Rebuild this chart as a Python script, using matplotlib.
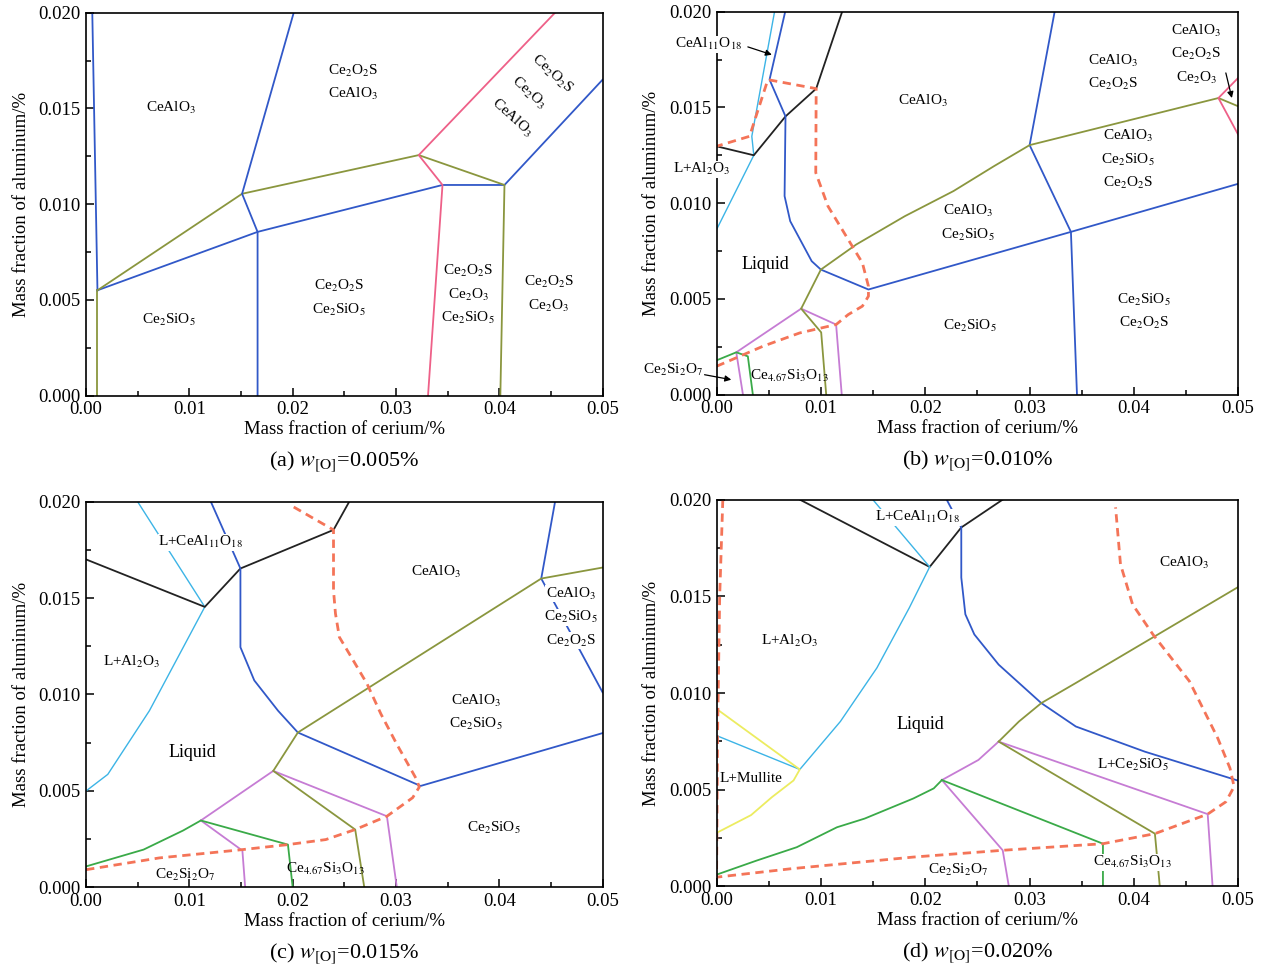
import numpy as np
import matplotlib
matplotlib.use("Agg")
import matplotlib.pyplot as plt
from matplotlib.ticker import MultipleLocator, FormatStrFormatter

plt.rcParams['font.family'] = ['Liberation Serif', 'DejaVu Serif']
plt.rcParams['mathtext.fontset'] = 'stix'

# ---- colours of the boundary lines
BLUE = '#3158c8'
CYAN = '#3cb4e6'
OLIVE = '#8a963e'
PINK = '#ee6088'
DASH = '#f47458'
PURPLE = '#c67cd4'
GREEN = '#3aaa48'
YELLOW = '#ecec60'
BLACK = '#222222'

# ---- (a) w[O] = 0.005 %
a_blue_left = [(0.0006, 0.020), (0.0011, 0.0055)]
a_olive_left = [(0.0011, 0.0055), (0.0011, 0.0)]
a_blue_low = [(0.0011, 0.0055), (0.0166, 0.00855), (0.0345, 0.0110), (0.0405, 0.0110), (0.050, 0.0165)]
a_olive_mid = [(0.0011, 0.0055), (0.0151, 0.01054), (0.0322, 0.01256), (0.0405, 0.0110), (0.0401, 0.0)]
a_blue_mid = [(0.0201, 0.020), (0.0151, 0.01054), (0.0166, 0.00855), (0.0166, 0.0)]
a_pink = [(0.0454, 0.020), (0.0322, 0.01256), (0.0345, 0.0110), (0.0331, 0.0)]

# ---- (b) w[O] = 0.010 %
b_cyan = [(0.00556, 0.020), (0.00338, 0.01349), (0.00357, 0.0125), (0.0, 0.00862)]
b_black = [(0.0, 0.01297), (0.00357, 0.0125), (0.00661, 0.01453), (0.00955, 0.01598), (0.01204, 0.020)]
b_blue_left = [(0.00658, 0.020), (0.00508, 0.01645), (0.00661, 0.01453), (0.00652, 0.01037),
               (0.00706, 0.00906), (0.00912, 0.00697), (0.0100, 0.00653), (0.01456, 0.00549),
               (0.03397, 0.0085), (0.050, 0.01101)]
b_blue_right = [(0.03241, 0.020), (0.03001, 0.01303), (0.03397, 0.0085), (0.03455, 0.0)]
b_olive = [(0.00811, 0.00449), (0.0100, 0.00653), (0.01339, 0.00784), (0.01805, 0.00932),
           (0.02271, 0.01063), (0.02659, 0.01193), (0.03001, 0.01303), (0.04811, 0.01549), (0.050, 0.01506)]
b_pink = [(0.050, 0.01654), (0.04811, 0.01549), (0.050, 0.01358)]
b_purple = [(0.00253, 0.0), (0.00189, 0.00221), (0.00811, 0.00449), (0.01146, 0.00366), (0.0120, 0.0)]
b_green = [(0.0, 0.00179), (0.00189, 0.00221), (0.0030, 0.0020), (0.00348, 0.0)]
b_olive2 = [(0.00811, 0.00449), (0.01003, 0.00325), (0.01051, 0.0)]
b_dash = [(0.0, 0.00148), (0.00446, 0.00253), (0.00796, 0.00322), (0.01146, 0.00366), (0.01262, 0.00418),
          (0.01398, 0.00462), (0.01456, 0.00514), (0.01456, 0.00566), (0.01398, 0.00688),
          (0.01262, 0.0081), (0.01068, 0.00984), (0.00951, 0.01159), (0.00955, 0.01598),
          (0.00492, 0.01645), (0.00316, 0.01349), (0.0, 0.01297)]

# ---- (c) w[O] = 0.015 %
c_cyan = [(0.0, 0.0050), (0.0021, 0.00586), (0.00613, 0.00916), (0.01149, 0.01454), (0.00498, 0.020)]
c_black = [(0.0, 0.0170), (0.01149, 0.01454), (0.01494, 0.01653), (0.02395, 0.01853), (0.02548, 0.020)]
c_blue_left = [(0.01207, 0.020), (0.01494, 0.01653), (0.01494, 0.01245), (0.01628, 0.01073),
               (0.01858, 0.00916), (0.0205, 0.00803), (0.03238, 0.00526), (0.050, 0.0080)]
c_blue_right = [(0.0454, 0.020), (0.04406, 0.01601), (0.050, 0.01011)]
c_olive = [(0.01812, 0.00604), (0.0205, 0.00803), (0.04406, 0.01601), (0.050, 0.01658)]
c_purple1 = [(0.01111, 0.00347), (0.01812, 0.00604), (0.02912, 0.00369), (0.03008, 0.0)]
c_purple2 = [(0.01111, 0.00347), (0.01513, 0.00191), (0.0154, 0.0)]
c_green = [(0.0, 0.00109), (0.00556, 0.00196), (0.00939, 0.00295), (0.01111, 0.00347), (0.01954, 0.00222), (0.0200, 0.0)]
c_olive2 = [(0.01812, 0.00604), (0.02605, 0.0030), (0.02693, 0.0)]
c_dash = [(0.0, 0.00092), (0.00709, 0.00153), (0.01513, 0.00196), (0.01954, 0.00222), (0.0232, 0.00248),
          (0.02605, 0.0030), (0.02912, 0.00369), (0.03161, 0.00465), (0.03225, 0.00520),
          (0.03199, 0.0056), (0.03008, 0.00742), (0.02854, 0.00899), (0.0272, 0.01055),
          (0.02548, 0.01211), (0.02452, 0.01297), (0.02414, 0.01419), (0.02395, 0.0154),
          (0.02395, 0.01853), (0.01973, 0.01983)]

# ---- (d) w[O] = 0.020 %
d_black = [(0.00798, 0.020), (0.02043, 0.01652), (0.02346, 0.01856), (0.02743, 0.020)]
d_cyan1 = [(0.01498, 0.020), (0.02043, 0.01652)]
d_cyan2 = [(0.02043, 0.01652), (0.01848, 0.01441), (0.01537, 0.0113), (0.01187, 0.00853),
           (0.00798, 0.00605), (0.0, 0.0078)]
d_yellow = [(0.0, 0.00918), (0.00798, 0.00605), (0.00738, 0.00548), (0.00529, 0.00461),
            (0.00331, 0.00369), (0.0, 0.00277)]
d_blue = [(0.02206, 0.020), (0.02346, 0.01856), (0.02346, 0.01597), (0.02385, 0.01407), (0.02471, 0.01303),
          (0.02704, 0.01147), (0.03113, 0.00948), (0.03444, 0.00827), (0.04105, 0.00697), (0.050, 0.00547)]
d_olive = [(0.02704, 0.00749), (0.02899, 0.00853), (0.03113, 0.00948), (0.03444, 0.01052), (0.050, 0.01548)]
d_purple1 = [(0.0216, 0.0055), (0.0251, 0.00654), (0.02704, 0.00749), (0.04708, 0.00374), (0.04755, 0.0)]
d_olive2 = [(0.02704, 0.00749), (0.04202, 0.00273), (0.04249, 0.0)]
d_purple2 = [(0.0216, 0.0055), (0.02743, 0.00187), (0.02802, 0.0)]
d_green1 = [(0.0216, 0.0055), (0.03704, 0.00221), (0.03704, 0.0)]
d_green2 = [(0.0, 0.00061), (0.00385, 0.00134), (0.00769, 0.00203), (0.01154, 0.00306), (0.0142, 0.00351),
            (0.01887, 0.00455), (0.02082, 0.00507), (0.0216, 0.0055)]
d_dash = [(0.0006, 0.020), (0.0003, 0.015), (0.0001, 0.008), (0.0, 0.00048), (0.0072, 0.00092),
          (0.01887, 0.00152), (0.02743, 0.00187), (0.03704, 0.00221), (0.04202, 0.00273),
          (0.04708, 0.00374), (0.04883, 0.00438), (0.04961, 0.00516), (0.04922, 0.00611),
          (0.04805, 0.00766), (0.04533, 0.01061), (0.04183, 0.01303), (0.03988, 0.01458),
          (0.03872, 0.01666), (0.03825, 0.0196)]

# ---- phase labels: (lines, x, y of first line, white backing)
CeAlO3 = 'CeAlO$_3$'
Ce2O2S = 'Ce$_2$O$_2$S'
Ce2O3 = 'Ce$_2$O$_3$'
Ce2SiO5 = 'Ce$_2$SiO$_5$'
Ce2Si2O7 = 'Ce$_2$Si$_2$O$_7$'
Ce467 = 'Ce$_{4.67}$Si$_3$O$_{13}$'

a_labels = [([CeAlO3], 0.0082, 0.0150, False), ([Ce2O2S, CeAlO3], 0.0258, 0.01695, False),
            ([Ce2O2S, Ce2O3, Ce2SiO5], 0.0370, 0.0065, False), ([Ce2O2S, Ce2O3], 0.0448, 0.00592, False),
            ([Ce2O2S, Ce2SiO5], 0.0245, 0.00571, False), ([Ce2SiO5], 0.0080, 0.00397, False)]
a_rot_labels = [(Ce2O2S, 0.0451, 0.01683), (Ce2O3, 0.0428, 0.01582), (CeAlO3, 0.04125, 0.01451)]

b_labels = [([CeAlO3], 0.0198, 0.01533, False), ([CeAlO3, Ce2O2S], 0.0380, 0.01742, False),
            ([CeAlO3, Ce2O2S, Ce2O3], 0.0460, 0.01899, False),
            ([CeAlO3, Ce2SiO5, Ce2O2S], 0.0394, 0.0135, False),
            ([CeAlO3, Ce2SiO5], 0.0241, 0.00958, False), ([Ce2SiO5, Ce2O2S], 0.0410, 0.00497, False),
            ([Ce2SiO5], 0.0243, 0.00357, False), ([Ce467], 0.0070, 0.00096, False),
            (['CeAl$_{11}$O$_{18}$'], -0.0008, 0.0183, True), (['L+Al$_2$O$_3$'], -0.0014, 0.01176, True),
            ([Ce2Si2O7], -0.0042, 0.00131, True)]
b_arrows = [((0.0030, 0.01816), (0.0053, 0.01775)), ((0.04882, 0.0168), (0.0494, 0.01549)),
            ((-0.00115, 0.00104), (0.00141, 0.00078))]

c_labels = [(['L+CeAl$_{11}$O$_{18}$'], 0.0111, 0.0179, True), ([CeAlO3], 0.0339, 0.01636, False),
            ([CeAlO3, Ce2SiO5, Ce2O2S], 0.0469, 0.01523, True), (['L+Al$_2$O$_3$'], 0.0044, 0.01167, False),
            ([CeAlO3, Ce2SiO5], 0.0377, 0.00968, False), ([Ce2SiO5], 0.0395, 0.0031, False),
            ([Ce2Si2O7], 0.0096, 0.00066, False), ([Ce467], 0.0232, 0.00097, False)]

d_labels = [(['L+CeAl$_{11}$O$_{18}$'], 0.0193, 0.0191, True), ([CeAlO3], 0.0448, 0.01675, False),
            (['L+Al$_2$O$_3$'], 0.0070, 0.01268, False), (['L+Ce$_2$SiO$_5$'], 0.0399, 0.00630, False),
            (['L+Mullite'], 0.0033, 0.00559, True), ([Ce2Si2O7], 0.0232, 0.00083, False),
            ([Ce467], 0.0399, 0.00126, True)]

liquid_pos = {'b': (0.0047, 0.0068), 'c': (0.0103, 0.0070), 'd': (0.0195, 0.00836)}

captions = {'a': r'(a) $w_{[\mathrm{O}]}$=0.005%', 'b': r'(b) $w_{[\mathrm{O}]}$=0.010%',
            'c': r'(c) $w_{[\mathrm{O}]}$=0.015%', 'd': r'(d) $w_{[\mathrm{O}]}$=0.020%'}

panels = {
    'a': [(a_blue_left, BLUE), (a_olive_left, OLIVE), (a_blue_low, BLUE), (a_olive_mid, OLIVE),
          (a_blue_mid, BLUE), (a_pink, PINK)],
    'b': [(b_cyan, CYAN), (b_black, BLACK), (b_blue_left, BLUE), (b_blue_right, BLUE), (b_olive, OLIVE),
          (b_pink, PINK), (b_purple, PURPLE), (b_green, GREEN), (b_olive2, OLIVE), (b_dash, DASH)],
    'c': [(c_cyan, CYAN), (c_black, BLACK), (c_blue_left, BLUE), (c_blue_right, BLUE), (c_olive, OLIVE),
          (c_purple1, PURPLE), (c_purple2, PURPLE), (c_green, GREEN), (c_olive2, OLIVE), (c_dash, DASH)],
    'd': [(d_black, BLACK), (d_cyan1, CYAN), (d_cyan2, CYAN), (d_yellow, YELLOW), (d_blue, BLUE),
          (d_olive, OLIVE), (d_purple1, PURPLE), (d_olive2, OLIVE), (d_purple2, PURPLE),
          (d_green1, GREEN), (d_green2, GREEN), (d_dash, DASH)],
}
label_sets = {'a': a_labels, 'b': b_labels, 'c': c_labels, 'd': d_labels}

fig = plt.figure(figsize=(12.66, 9.72), dpi=100)
rects = {'a': [0.068, 0.593, 0.408, 0.394], 'b': [0.566, 0.594, 0.412, 0.394],
         'c': [0.068, 0.087, 0.408, 0.397], 'd': [0.566, 0.088, 0.412, 0.398]}

STEP = 0.00122
BOX = dict(facecolor='white', edgecolor='none', pad=0.3)

for key in ['a', 'b', 'c', 'd']:
    ax = fig.add_axes(rects[key])
    for pts, col in panels[key]:
        xs = [p[0] for p in pts]
        ys = [p[1] for p in pts]
        if col == DASH:
            ax.plot(xs, ys, color=col, lw=2.0, ls=(0, (3, 2)), zorder=2)
        elif col == CYAN:
            ax.plot(xs, ys, color=col, lw=1.0, zorder=2)
        else:
            ax.plot(xs, ys, color=col, lw=1.3, zorder=2)

    for lines, x, y, boxed in label_sets[key]:
        for i, s in enumerate(lines):
            ax.text(x, y - i * STEP, s, fontsize=11, ha='center', va='center',
                    bbox=BOX if boxed else None, zorder=5, clip_on=False)
    if key == 'a':
        for s, x, y in a_rot_labels:
            ax.text(x, y, s, fontsize=11, ha='center', va='center', rotation=-42,
                    rotation_mode='anchor', zorder=5)
    if key == 'b':
        for (x0, y0), (x1, y1) in b_arrows:
            ax.annotate('', xy=(x1, y1), xytext=(x0, y0),
                        arrowprops=dict(arrowstyle='-|>', color='black', lw=0.9,
                                        mutation_scale=9, shrinkA=0, shrinkB=0),
                        annotation_clip=False, zorder=6)
    if key in liquid_pos:
        lx, ly = liquid_pos[key]
        ax.text(lx, ly, 'Liquid', fontsize=13, ha='center', va='center', zorder=5)

    ax.set_xlim(0, 0.05)
    ax.set_ylim(0, 0.020)
    ax.xaxis.set_major_locator(MultipleLocator(0.01))
    ax.xaxis.set_minor_locator(MultipleLocator(0.005))
    ax.yaxis.set_major_locator(MultipleLocator(0.005))
    ax.yaxis.set_minor_locator(MultipleLocator(0.0025))
    ax.xaxis.set_major_formatter(FormatStrFormatter('%.2f'))
    ax.yaxis.set_major_formatter(FormatStrFormatter('%.3f'))
    ax.tick_params(which='both', direction='in', top=False, right=False, labelsize=13.5, width=1.1)
    ax.tick_params(which='major', length=6, pad=4)
    ax.tick_params(which='minor', length=3.5)
    for sp in ax.spines.values():
        sp.set_linewidth(1.2)
    ax.set_xlabel('Mass fraction of cerium/%', fontsize=13.5, labelpad=2)
    ax.set_ylabel('Mass fraction of aluminum/%', fontsize=13.5, labelpad=6)
    ax.text(0.5, -0.172, captions[key], transform=ax.transAxes, fontsize=16,
            ha='center', va='center')

fig.savefig('out.png', dpi=100)
